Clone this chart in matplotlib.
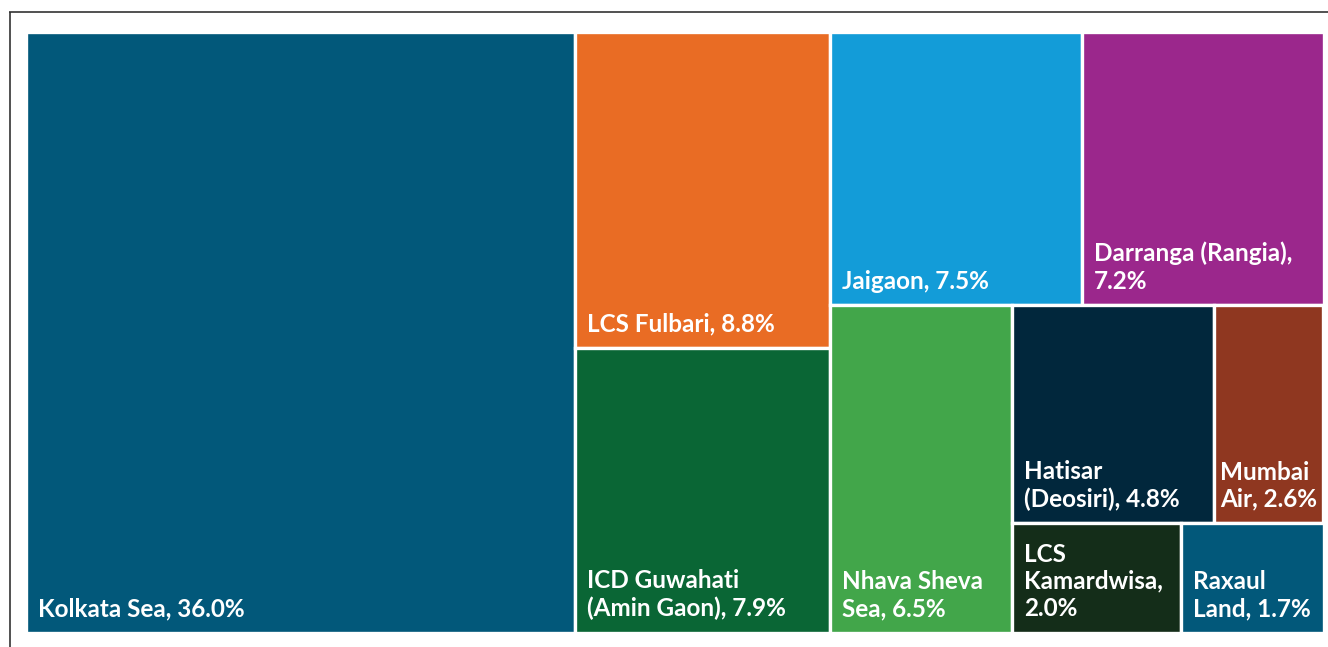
import matplotlib
matplotlib.use("Agg")
import matplotlib.pyplot as plt
from matplotlib.patches import Rectangle

# ---------------------------------------------------------------------------
# Data (share of total, %)
# ---------------------------------------------------------------------------
names = ["Kolkata Sea", "LCS Fulbari", "ICD Guwahati (Amin Gaon)", "Jaigaon",
         "Darranga (Rangia)", "Nhava Sheva Sea", "Hatisar (Deosiri)",
         "Mumbai Air", "LCS Kamardwisa", "Raxaul Land"]
shares = [36.0, 8.8, 7.9, 7.5, 7.2, 6.5, 4.8, 2.6, 2.0, 1.7]
labels = ["Kolkata Sea, 36.0%", "LCS Fulbari, 8.8%",
          "ICD Guwahati\n(Amin Gaon), 7.9%", "Jaigaon, 7.5%",
          "Darranga (Rangia),\n7.2%", "Nhava Sheva\nSea, 6.5%",
          "Hatisar\n(Deosiri), 4.8%", "Mumbai\nAir, 2.6%",
          "LCS\nKamardwisa,\n2.0%", "Raxaul\nLand, 1.7%"]
colors = ["#02587a", "#e96c24", "#0a6635", "#139cd8", "#9b278c",
          "#42a64a", "#01273c", "#8f3720", "#142d19", "#02587a"]


def worst(row, side):
    s = sum(row)
    return max(max(side * side * r / (s * s), s * s / (side * side * r)) for r in row)


def squarify(sizes, x, y, w, h):
    total = sum(sizes)
    sizes = [v * w * h / total for v in sizes]
    rects = []
    while sizes:
        side = min(w, h)
        row = [sizes[0]]
        i = 1
        while i < len(sizes) and worst(row + [sizes[i]], side) <= worst(row, side):
            row.append(sizes[i])
            i += 1
        s = sum(row)
        if w >= h:
            cw = s / h
            yy = y
            for a in row:
                rects.append((x, yy, cw, a / cw))
                yy += a / cw
            x += cw
            w -= cw
        else:
            rh = s / w
            xx = x
            for a in row:
                rects.append((xx, y, a / rh, rh))
                xx += a / rh
            y += rh
            h -= rh
        sizes = sizes[i:]
    return rects


W, H = 1328, 647
fig = plt.figure(figsize=(W / 100, H / 100), dpi=100)
ax = fig.add_axes([0, 0, 1, 1])
ax.set_xlim(0, W)
ax.set_ylim(H, 0)
ax.axis("off")

# frame lines (top and left)
ax.plot([9, W], [12, 12], color="#333333", lw=1.2, solid_capstyle="butt")
ax.plot([10, 10], [12, H], color="#333333", lw=1.2, solid_capstyle="butt")

renderer = fig.canvas.get_renderer()
rects = squarify(shares, 25.5, 31.5, 1298, 601)
for (x, y, w, h), lab, c in zip(rects, labels, colors):
    ax.add_patch(Rectangle((x, y), w, h, facecolor=c, edgecolor="white", lw=2.4))
    t = ax.text(x + 12, y + h - 12.5, lab, color="white", fontsize=17.5,
                fontfamily="Lato", fontweight="bold", ha="left", va="bottom",
                linespacing=1.22)
    # narrow cells: shrink the left padding so the label stays inside
    tw = t.get_window_extent(renderer).width
    pad = min(12, max(3, (w - tw) / 2))
    t.set_x(x + pad)

fig.savefig("out.png", dpi=100)
